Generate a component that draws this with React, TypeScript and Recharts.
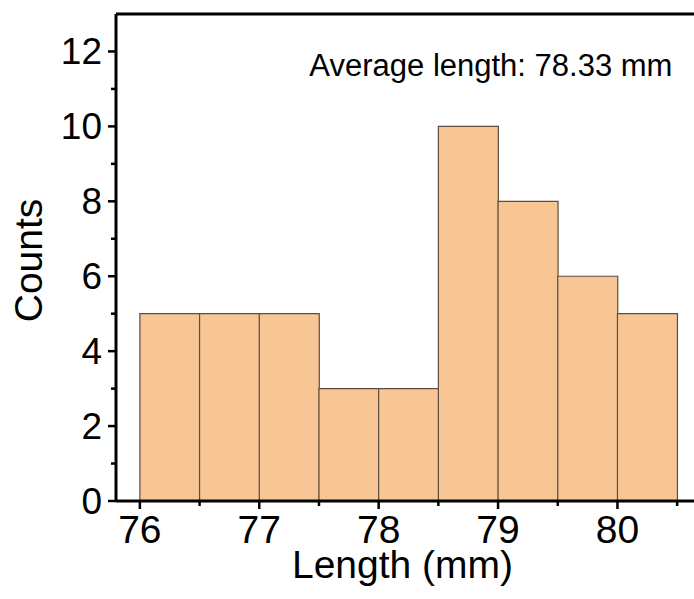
import { ComposedChart, Bar, XAxis, YAxis, ReferenceLine, ReferenceDot } from 'recharts';

// histogram bins (left edge, width 0.5 mm) and their counts
const binStart = [76, 76.5, 77, 77.5, 78, 78.5, 79, 79.5, 80];
const counts = [5, 5, 5, 3, 3, 10, 8, 6, 5];
const binWidth = 0.5;

const xTicks = [76, 76.5, 77, 77.5, 78, 78.5, 79, 79.5, 80, 80.5];
const xMajor = [76, 77, 78, 79, 80];
const yTicks = [0, 1, 2, 3, 4, 5, 6, 7, 8, 9, 10, 11, 12];
const yMajor = [0, 2, 4, 6, 8, 10, 12];

const averageLabel = 'Average length: 78.33 mm';

const FONT = '"Liberation Sans", Arial, sans-serif';

const data = binStart.map((s, i) => ({ mid: s + binWidth / 2, count: counts[i] }));

function XTick(props: any) {
  const { x, y, payload } = props;
  const major = xMajor.includes(payload.value);
  return (
    <g>
      <line x1={x} y1={y} x2={x} y2={y + (major ? 8 : 5)} stroke="#000" strokeWidth={2.5} />
      {major && (
        <text x={x} y={y + 42} textAnchor="middle" fontSize={39} fontFamily={FONT} fill="#000">
          {payload.value}
        </text>
      )}
    </g>
  );
}

function YTick(props: any) {
  const { x, y, payload } = props;
  const major = yMajor.includes(payload.value);
  return (
    <g>
      <line x1={x} y1={y} x2={x - (major ? 8 : 5)} y2={y} stroke="#000" strokeWidth={2.5} />
      {major && (
        <text x={x - 14} y={y + 13} textAnchor="end" fontSize={37} fontFamily={FONT} fill="#000">
          {payload.value}
        </text>
      )}
    </g>
  );
}

export default function App() {
  return (
    <div style={{ position: 'fixed', left: 0, top: 0, width: 694, height: 599, overflow: 'hidden', background: '#fff' }}>
      <ComposedChart
        width={710}
        height={599}
        data={data}
        margin={{ top: 14, right: 3, left: 0, bottom: 0 }}
        barCategoryGap={0}
      >
        <XAxis
          dataKey="mid"
          type="number"
          domain={[75.8, 80.75]}
          ticks={xTicks}
          interval={0}
          allowDataOverflow
          height={98}
          tickSize={0}
          tickMargin={0}
          tickLine={false}
          tick={<XTick />}
          axisLine={{ stroke: '#000', strokeWidth: 3 }}
          label={{
            content: (p: any) => (
              <text
                x={p.viewBox.x + p.viewBox.width / 2 - 9}
                y={p.viewBox.y + 77}
                textAnchor="middle"
                fontSize={39}
                fontFamily={FONT}
                fill="#000"
              >
                Length (mm)
              </text>
            ),
          }}
        />
        <YAxis
          type="number"
          domain={[0, 13]}
          ticks={yTicks}
          interval={0}
          width={116}
          tickSize={0}
          tickMargin={0}
          tickLine={false}
          tick={<YTick />}
          axisLine={{ stroke: '#000', strokeWidth: 3 }}
          label={{
            content: (p: any) => {
              const cx = p.viewBox.x + 42;
              const cy = p.viewBox.y + p.viewBox.height / 2 + 3;
              return (
                <text
                  x={cx}
                  y={cy}
                  transform={`rotate(-90, ${cx}, ${cy})`}
                  textAnchor="middle"
                  fontSize={39}
                  fontFamily={FONT}
                  fill="#000"
                >
                  Counts
                </text>
              );
            },
          }}
        />
        <Bar
          dataKey="count"
          fill="#F8C695"
          stroke="#5e4d40"
          strokeWidth={1.2}
          isAnimationActive={false}
        />
        <ReferenceLine y={13} stroke="#000" strokeWidth={3} />
        <ReferenceDot
          x={78.94}
          y={11.35}
          r={0}
          stroke="none"
          fill="none"
          label={{
            content: (p: any) => (
              <text
                x={p.viewBox.x + p.viewBox.width / 2}
                y={p.viewBox.y + p.viewBox.height / 2}
                textAnchor="middle"
                fontSize={31}
                fontFamily={FONT}
                fill="#000"
              >
                {averageLabel}
              </text>
            ),
          }}
        />
      </ComposedChart>
    </div>
  );
}
